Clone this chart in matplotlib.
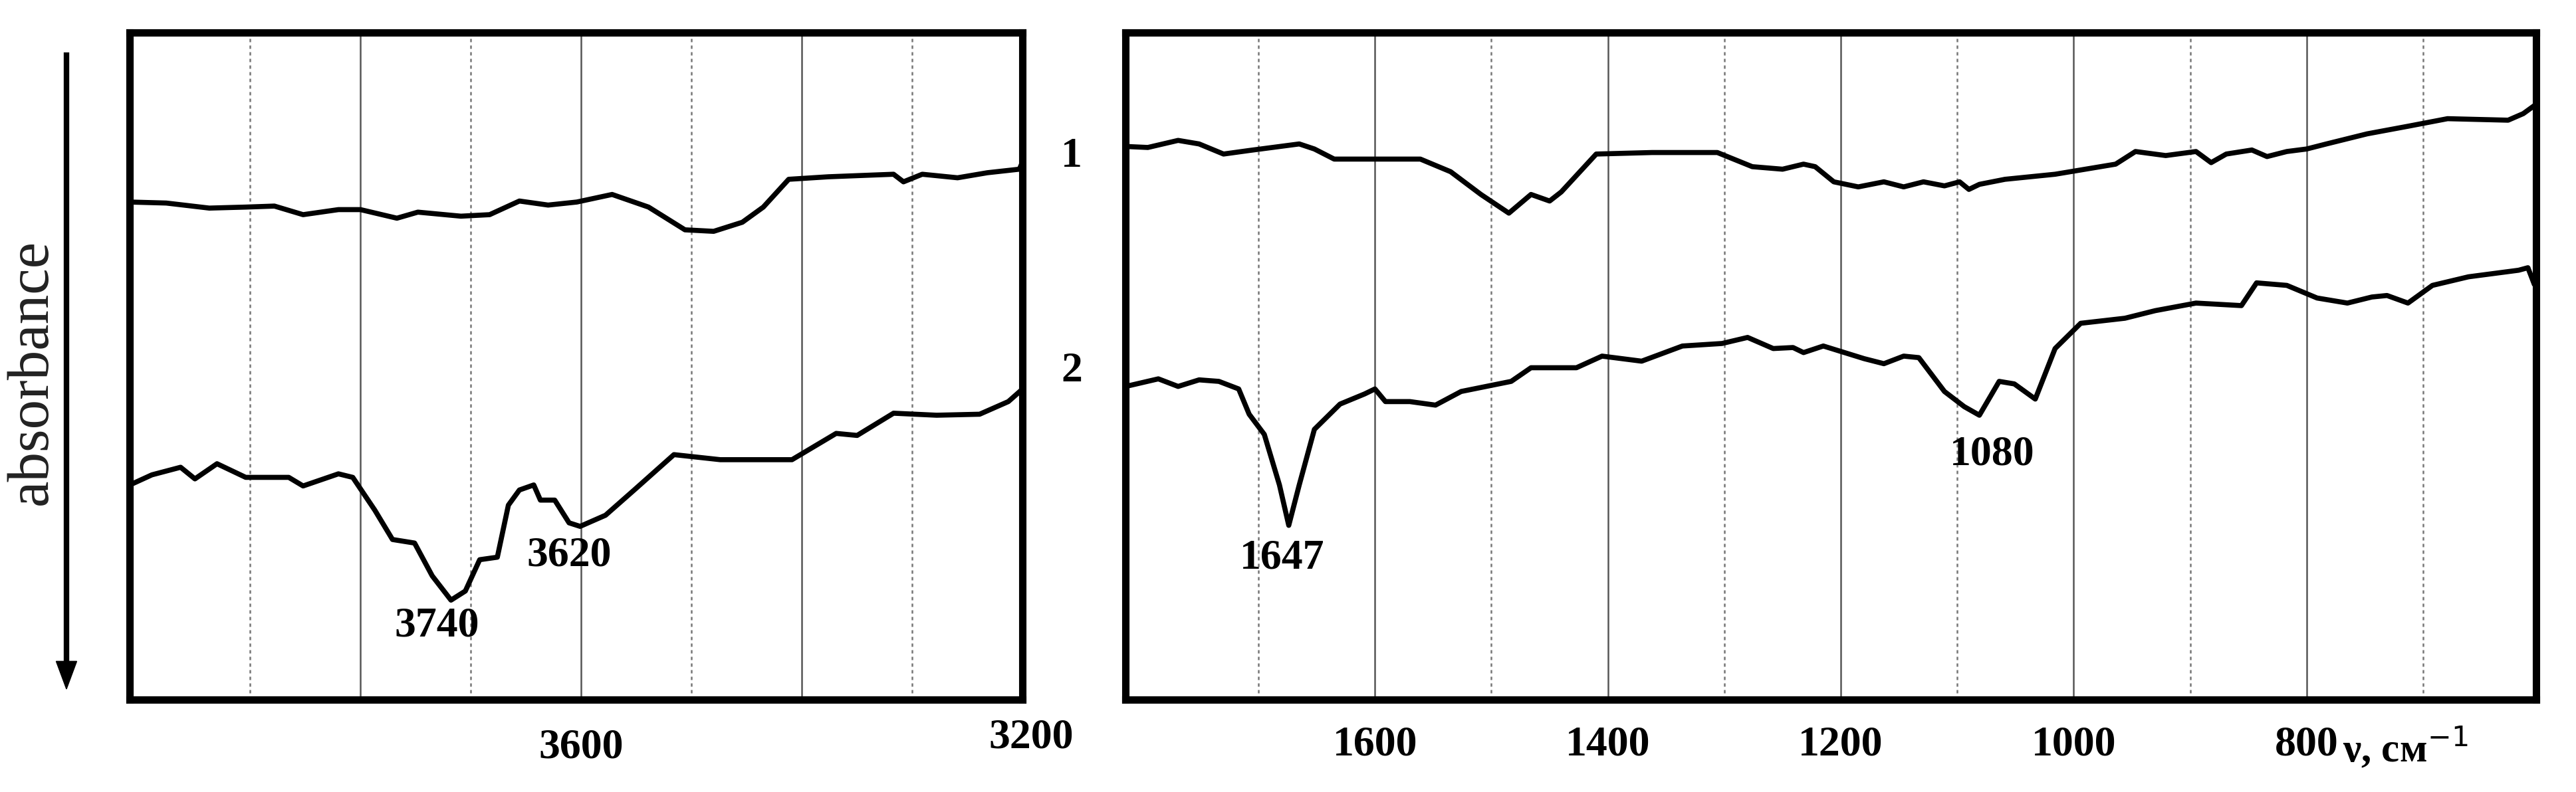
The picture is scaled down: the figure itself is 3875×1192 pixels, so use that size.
import matplotlib.pyplot as plt

plt.rcParams['font.family'] = ['Liberation Serif', 'DejaVu Serif']

# wavenumbers (cm-1) and absorbance (arbitrary units, increases downward)
w1_left = [4009, 3976, 3937, 3904, 3878, 3852, 3820, 3800, 3767, 3748, 3709, 3683, 3656, 3630,
           3604, 3572, 3539, 3506, 3480, 3454, 3435, 3412, 3376, 3317, 3308, 3291, 3259, 3232, 3203, 3200]
a1_left = [400, 402, 412, 410, 408, 425, 415, 415, 432, 420, 428, 425, 398, 406,
           400, 385, 410, 455, 458, 440, 410, 355, 350, 345, 360, 345, 352, 342, 335, 320]

w2_left = [4009, 3989, 3963, 3950, 3930, 3904, 3865, 3852, 3820, 3807, 3787, 3771, 3751, 3735,
           3718, 3705, 3692, 3676, 3666, 3656, 3643, 3637, 3624, 3611, 3601, 3578, 3552, 3516,
           3474, 3409, 3369, 3350, 3317, 3278, 3239, 3213, 3200]
a2_left = [960, 940, 925, 948, 918, 945, 945, 962, 938, 945, 1010, 1068, 1075, 1140,
           1188, 1170, 1108, 1103, 1000, 970, 960, 990, 990, 1035, 1042, 1020, 970, 900,
           910, 910, 858, 862, 818, 822, 820, 795, 770]

w1_right = [1814, 1795, 1769, 1751, 1730, 1708, 1665, 1652, 1635, 1600, 1561, 1535, 1509, 1485,
            1466, 1450, 1440, 1410, 1362, 1306, 1276, 1250, 1232, 1222, 1206, 1185, 1163, 1146,
            1129, 1111, 1098, 1090, 1081, 1059, 1016, 990, 964, 947, 921, 895, 882, 869, 847,
            834, 817, 800, 783, 748, 713, 679, 627, 614, 605]
a1_right = [290, 292, 278, 285, 305, 298, 285, 295, 315, 315, 315, 340, 385, 422,
            385, 398, 380, 305, 302, 302, 330, 335, 325, 330, 360, 370, 360, 370,
            360, 368, 360, 375, 365, 355, 345, 335, 325, 300, 308, 300, 322, 305, 297,
            310, 300, 295, 285, 265, 250, 235, 238, 225, 210]

w2_right = [1814, 1786, 1769, 1751, 1734, 1717, 1708, 1695, 1682, 1674, 1665, 1652, 1630, 1609,
            1600, 1591, 1570, 1548, 1526, 1483, 1466, 1427, 1405, 1371, 1336, 1302, 1280, 1258,
            1241, 1232, 1215, 1180, 1163, 1146, 1133, 1111, 1094, 1081, 1064, 1051, 1033, 1016,
            994, 956, 930, 895, 856, 843, 817, 791, 765, 744, 731, 713, 692, 661, 618, 610, 605]
a2_right = [765, 750, 765, 752, 755, 770, 820, 860, 960, 1040, 960, 850, 800, 780,
            770, 795, 795, 802, 775, 755, 728, 728, 705, 715, 685, 680, 668, 690,
            688, 698, 685, 710, 720, 705, 708, 775, 805, 822, 755, 760, 790, 690,
            640, 630, 615, 600, 605, 560, 565, 590, 600, 588, 585, 600, 565, 548, 535, 530, 560]

peaks_left = [(3731, 1240, '3740'), (3611, 1100, '3620')]
peaks_right = [(1680, 1105, '1647'), (1070, 900, '1080')]

fig = plt.figure(figsize=(38.75, 11.92), dpi=100)
ax_l = fig.add_axes([0.0504, 0.1166, 0.3466, 0.842])
ax_r = fig.add_axes([0.437, 0.1166, 0.5475, 0.842])

txt = dict(fontsize=46, fontweight='bold', ha='center', va='center')

for ax, xl, solid, dotted in [
        (ax_l, (4009, 3200), [3800, 3600, 3400], [3900, 3700, 3500, 3300]),
        (ax_r, (1814, 603), [1600, 1400, 1200, 1000, 800], [1700, 1500, 1300, 1100, 900, 700])]:
    ax.set_xlim(*xl)
    ax.set_ylim(1385, 65)
    for x in solid:
        ax.axvline(x, color='#555555', lw=1.8, zorder=1)
    for x in dotted:
        ax.axvline(x, color='#777777', lw=1.8, ls=(0, (2, 2)), zorder=1)
    ax.set_xticks([])
    ax.set_yticks([])
    for s in ax.spines.values():
        s.set_linewidth(8)

for ax, xs, ys in [(ax_l, w1_left, a1_left), (ax_l, w2_left, a2_left),
                   (ax_r, w1_right, a1_right), (ax_r, w2_right, a2_right)]:
    ax.plot(xs, ys, color='black', lw=5.5, zorder=3, solid_joinstyle='round')

for x, y, s in peaks_left:
    ax_l.text(x, y, s, **txt)
for x, y, s in peaks_right:
    ax_r.text(x, y, s, **txt)

# tick labels under the axes
ax_l.text(3600, 1480, '3600', **txt)
ax_l.text(3192, 1460, '3200', **txt)
for x in [1600, 1400, 1200, 1000, 800]:
    ax_r.text(x, 1475, str(x), **txt)
ax_r.text(715, 1480, 'ν, см$^{-1}$', fontsize=44, fontweight='bold', ha='center', va='center')

fig.text(0.416, 0.802, '1', fontsize=46, fontweight='bold', ha='center', va='center')
fig.text(0.416, 0.531, '2', fontsize=46, fontweight='bold', ha='center', va='center')

fig.text(0.0126, 0.53, 'absorbance', fontsize=64, rotation=90, ha='center', va='center', color='#222222')
fig.add_artist(plt.Line2D([0.0258, 0.0258], [0.93, 0.16], color='black', lw=6))
fig.patches.append(plt.Polygon([[0.0218, 0.165], [0.0298, 0.165], [0.0258, 0.13]],
                               closed=True, color='black', transform=fig.transFigure))

fig.savefig('out.png', dpi=100)
